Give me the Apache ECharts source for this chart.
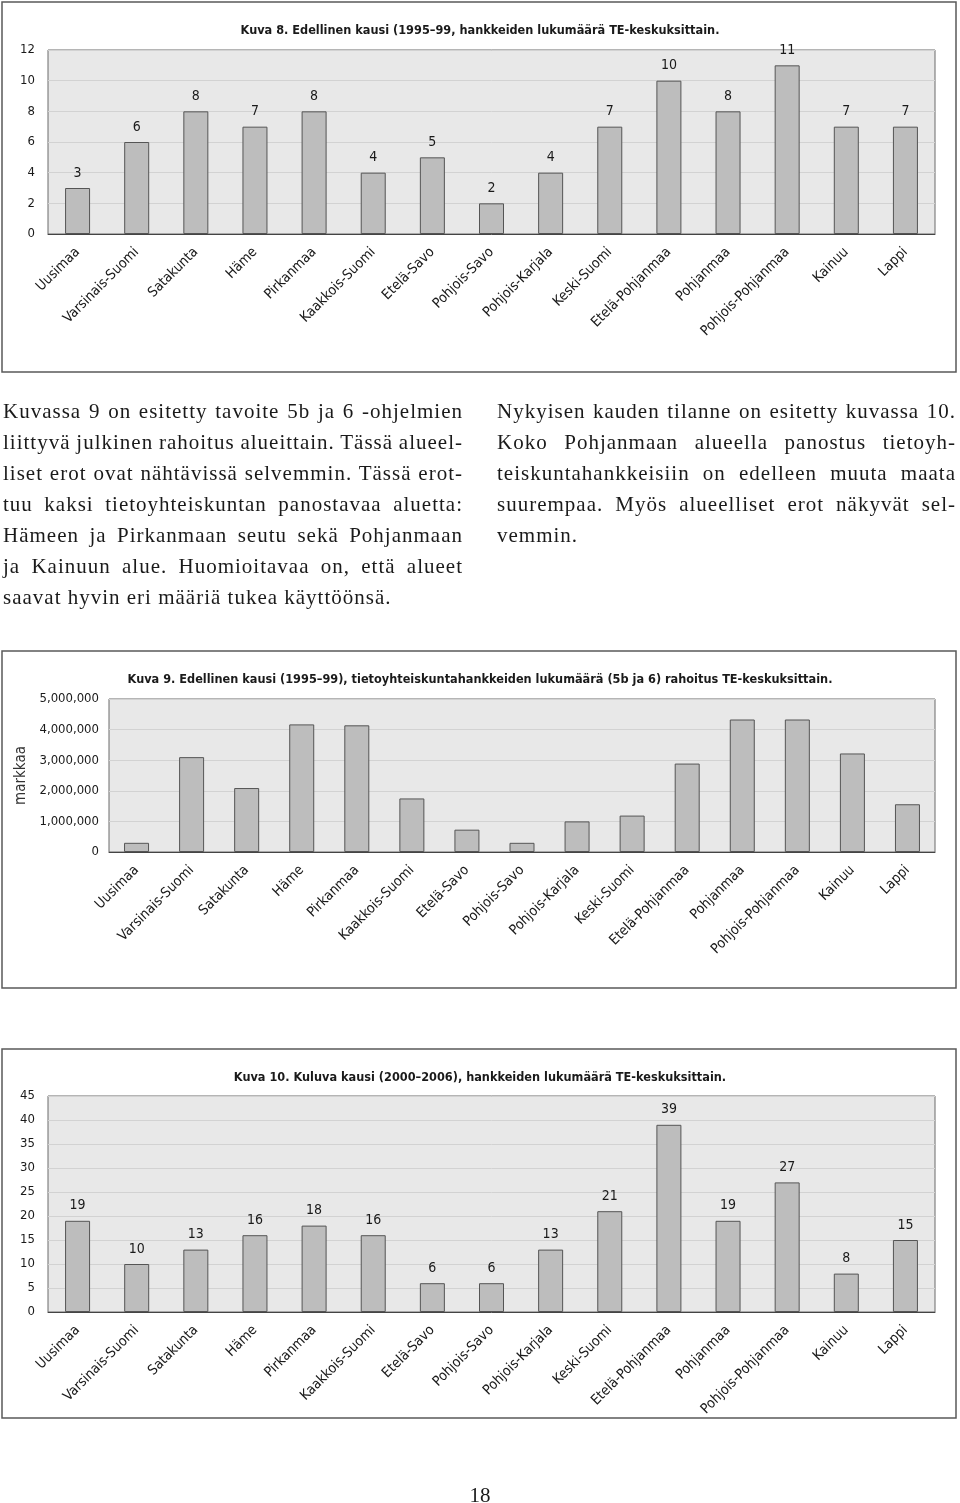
<!DOCTYPE html>
<html>
<head>
<meta charset="utf-8">
<script src="https://cdn.jsdelivr.net/npm/echarts@6/dist/echarts.min.js"></script>
<style>
  html, body { margin: 0; padding: 0; background: #fff; }
  #wrap { position: relative; width: 960px; height: 1503px; }
  #chart { position: absolute; left: 0; top: 0; width: 960px; height: 1503px; }
  .col { position: absolute; font-family: 'Liberation Serif', 'DejaVu Serif', serif; font-size: 21px; line-height: 31px; letter-spacing: 1px; color: #1a1a1a; }
  .col div { white-space: nowrap; height: 31px; }
  .col span { display: inline-block; white-space: nowrap; }
</style>
</head>
<body>
<div id="wrap">
  <div id="chart"></div>
  <div class="col" id="colLeft" style="left:3px; top:396px; width:460px;"></div>
  <div class="col" id="colRight" style="left:497px; top:396px; width:459px;"></div>
</div>
<script>
// ---------- data ----------
const categories = ['Uusimaa', 'Varsinais-Suomi', 'Satakunta', 'Häme', 'Pirkanmaa', 'Kaakkois-Suomi', 'Etelä-Savo', 'Pohjois-Savo', 'Pohjois-Karjala', 'Keski-Suomi', 'Etelä-Pohjanmaa', 'Pohjanmaa', 'Pohjois-Pohjanmaa', 'Kainuu', 'Lappi'];
const kuva8Values = [3, 6, 8, 7, 8, 4, 5, 2, 4, 7, 10, 8, 11, 7, 7];
const kuva9Values = [300000, 3100000, 2090000, 4170000, 4140000, 1750000, 730000, 300000, 1000000, 1190000, 2890000, 4330000, 4330000, 3220000, 1560000];
const kuva10Values = [19, 10, 13, 16, 18, 16, 6, 6, 13, 21, 39, 19, 27, 8, 15];
const kuva8Axis = { min: 0, max: 12, interval: 2 };
const kuva9Axis = { min: 0, max: 5000000, interval: 1000000 };
const kuva10Axis = { min: 0, max: 45, interval: 5 };
const titles = [
  'Kuva 8. Edellinen kausi (1995–99, hankkeiden lukumäärä TE-keskuksittain.',
  'Kuva 9. Edellinen kausi (1995–99), tietoyhteiskuntahankkeiden lukumäärä (5b ja 6) rahoitus TE-keskuksittain.',
  'Kuva 10. Kuluva kausi (2000–2006), hankkeiden lukumäärä TE-keskuksittain.'
];
const kuva9AxisName = 'markkaa';
const leftLines = [
  'Kuvassa 9 on esitetty tavoite 5b ja 6 -ohjelmien',
  'liittyvä julkinen rahoitus alueittain. Tässä alueel-',
  'liset erot ovat nähtävissä selvemmin. Tässä erot-',
  'tuu kaksi tietoyhteiskuntan panostavaa aluetta:',
  'Hämeen ja Pirkanmaan seutu sekä Pohjanmaan',
  'ja Kainuun alue. Huomioitavaa on, että alueet',
  'saavat hyvin eri määriä tukea käyttöönsä.'
];
const rightLines = [
  'Nykyisen kauden tilanne on esitetty kuvassa 10.',
  'Koko Pohjanmaan alueella panostus tietoyh-',
  'teiskuntahankkeisiin on edelleen muuta maata',
  'suurempaa. Myös alueelliset erot näkyvät sel-',
  'vemmin.'
];
const pageNumber = '18';

// ---------- paragraphs (justified line by line) ----------
function fillCol(id, lines) {
  const el = document.getElementById(id);
  const W = parseFloat(el.style.width);
  lines.forEach((t, i) => {
    const d = document.createElement('div');
    const s = document.createElement('span');
    s.textContent = t;
    d.appendChild(s);
    el.appendChild(d);
    if (i < lines.length - 1) {
      const nat = s.getBoundingClientRect().width;
      const spaces = (t.match(/ /g) || []).length;
      if (spaces > 0) s.style.wordSpacing = ((W - nat) / spaces) + 'px';
    }
  });
}
fillCol('colLeft', leftLines);
fillCol('colRight', rightLines);

// ---------- chart ----------
const SANS = "'Liberation Sans Narrow', 'DejaVu Sans Condensed', 'Roboto Condensed', 'Liberation Sans', sans-serif";
const TXT = '#1a1a1a';
const grids = [
  { left: 48, top: 50, width: 887, height: 184 },
  { left: 109, top: 699, width: 826, height: 153 },
  { left: 48, top: 1096, width: 887, height: 216 }
];
const axes = [kuva8Axis, kuva9Axis, kuva10Axis];
const values = [kuva8Values, kuva9Values, kuva10Values];
const titleTops = [19, 668, 1066];
const showLabels = [true, false, true];

const option = {
  animation: false,
  backgroundColor: '#ffffff',
  title: titles.map((t, i) => ({
    text: t, left: 'center', top: titleTops[i],
    textStyle: { fontFamily: SANS, fontSize: 12.6, fontWeight: 'bold', color: TXT }
  })).concat([{
    text: pageNumber, left: 'center', top: 1481,
    textStyle: { fontFamily: "'Liberation Serif', serif", fontSize: 21, fontWeight: 'normal', color: TXT }
  }]),
  graphic: [
    { type: 'rect', shape: { x: 2, y: 2, width: 954, height: 370 }, style: { fill: 'none', stroke: '#5a5a5a', lineWidth: 1.5 }, z: -1 },
    { type: 'rect', shape: { x: 2, y: 651, width: 954, height: 337 }, style: { fill: 'none', stroke: '#5a5a5a', lineWidth: 1.5 }, z: -1 },
    { type: 'rect', shape: { x: 2, y: 1049, width: 954, height: 369 }, style: { fill: 'none', stroke: '#5a5a5a', lineWidth: 1.5 }, z: -1 }
  ],
  grid: grids.map(g => Object.assign({
    show: true, backgroundColor: '#e8e8e8', borderColor: '#6a6a6a', borderWidth: 1, containLabel: false
  }, g)),
  xAxis: grids.map((g, i) => ({
    type: 'category', gridIndex: i, data: categories,
    boundaryGap: true,
    axisLine: { show: true, lineStyle: { color: '#444', width: 1 } },
    axisTick: { show: false },
    axisLabel: { rotate: 45, interval: 0, margin: 16, fontFamily: SANS, fontSize: 14, color: TXT }
  })),
  yAxis: grids.map((g, i) => ({
    type: 'value', gridIndex: i,
    min: axes[i].min, max: axes[i].max, interval: axes[i].interval,
    name: i === 1 ? kuva9AxisName : '',
    nameLocation: 'middle', nameGap: 73, nameRotate: 90,
    nameTextStyle: { fontFamily: SANS, fontSize: 15, color: '#333' },
    axisLine: { show: false }, axisTick: { show: false },
    splitLine: { show: true, lineStyle: { color: '#d2d2d2', width: 1 } },
    axisLabel: {
      margin: i === 1 ? 10 : 13, fontFamily: SANS, fontSize: 13, color: TXT,
      formatter: v => i === 1 ? v.toLocaleString('en-US') : String(v)
    }
  })),
  series: values.map((vals, i) => ({
    type: 'bar', xAxisIndex: i, yAxisIndex: i, data: vals,
    barWidth: 25,
    itemStyle: { color: '#bdbdbd', borderColor: '#555', borderWidth: 1 },
    label: { show: showLabels[i], position: 'top', distance: 8, fontFamily: SANS, fontSize: 14, color: TXT }
  }))
};
const chart = echarts.init(document.getElementById('chart'), null, { renderer: 'canvas' });
chart.setOption(option);
</script>
</body>
</html>
